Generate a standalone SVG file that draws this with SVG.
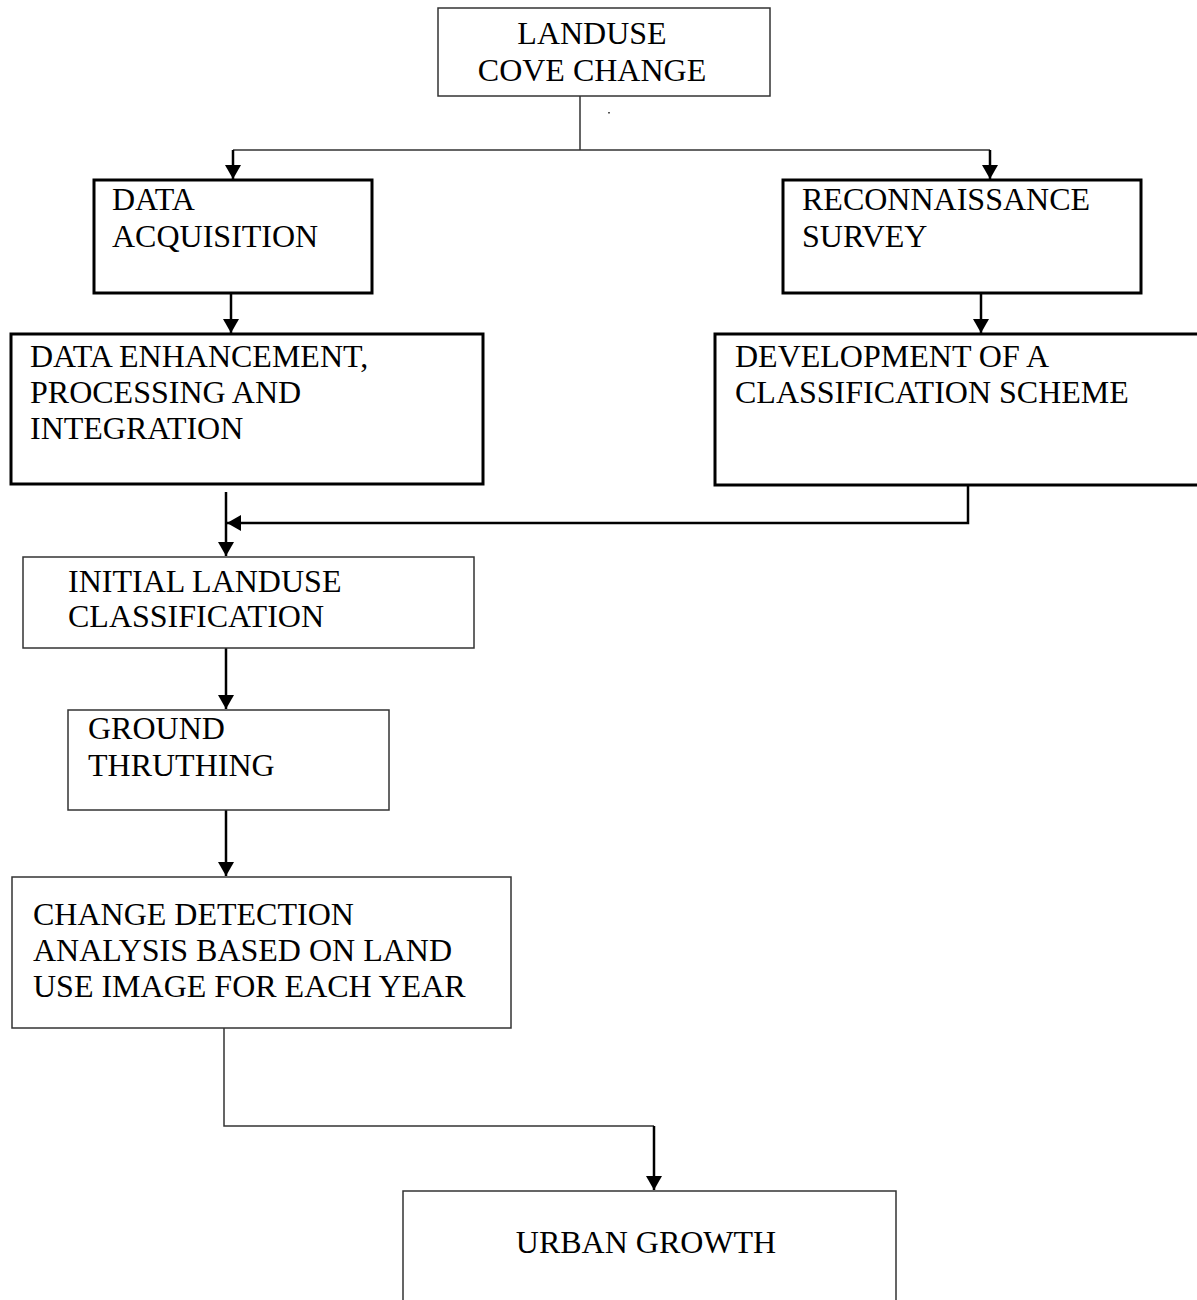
<svg xmlns="http://www.w3.org/2000/svg" width="1197" height="1300" viewBox="0 0 1197 1300">
<style>
text{font-family:"Times New Roman","Liberation Serif","DejaVu Serif",serif;font-size:32px;fill:#000}
.thick{fill:#fff;stroke:#000;stroke-width:3}
.thin{fill:#fff;stroke:#333;stroke-width:1.5}
.ln{fill:none;stroke:#333;stroke-width:1.5}
.ar{fill:none;stroke:#000;stroke-width:2.5}
</style>
<defs>
<marker id="ah" markerUnits="userSpaceOnUse" markerWidth="16" markerHeight="16" refX="14" refY="8" orient="auto">
<path d="M0,0 L14,8 L0,16 z" fill="#000"/>
</marker>
</defs>
<rect width="1197" height="1300" fill="#fff"/>
<g id="connectors">
<path class="ln" d="M580,96 V150 M233,150 H990"/>
<path class="ar" d="M233,150 V179" marker-end="url(#ah)"/>
<path class="ar" d="M990,150 V179" marker-end="url(#ah)"/>
<path class="ar" d="M231,293 V333" marker-end="url(#ah)"/>
<path class="ar" d="M981,293 V333" marker-end="url(#ah)"/>
<path class="ar" d="M968,486 V523 H227" marker-end="url(#ah)"/>
<path class="ar" d="M226,492 V556" marker-end="url(#ah)"/>
<path class="ar" d="M226,648 V709" marker-end="url(#ah)"/>
<path class="ar" d="M226,810 V876" marker-end="url(#ah)"/>
<path class="ln" d="M224,1028 V1126 H654"/>
<path class="ar" d="M654,1126 V1190" marker-end="url(#ah)"/>
<rect x="608" y="112" width="2" height="1.5" fill="#555"/>
</g>
<g id="n-landuse">
<rect class="thin" x="438" y="8" width="332" height="88" stroke="#555"/>
<text x="592" y="44" text-anchor="middle">LANDUSE</text>
<text x="592" y="81" text-anchor="middle">COVE CHANGE</text>
</g>
<g id="n-acq">
<rect class="thick" x="94" y="180" width="278" height="113"/>
<text x="112" y="210">DATA</text>
<text x="112" y="247">ACQUISITION</text>
</g>
<g id="n-recon">
<rect class="thick" x="783" y="180" width="358" height="113"/>
<text x="802" y="210">RECONNAISSANCE</text>
<text x="802" y="247">SURVEY</text>
</g>
<g id="n-enh">
<rect class="thick" x="11" y="334" width="472" height="150"/>
<text x="30" y="367">DATA ENHANCEMENT,</text>
<text x="30" y="403">PROCESSING AND</text>
<text x="30" y="439">INTEGRATION</text>
</g>
<g id="n-dev">
<rect class="thick" x="715" y="334" width="490" height="151"/>
<text x="735" y="367">DEVELOPMENT OF A</text>
<text x="735" y="403">CLASSIFICATION SCHEME</text>
</g>
<g id="n-initial">
<rect class="thin" x="23" y="557" width="451" height="91"/>
<text x="68" y="592">INITIAL LANDUSE</text>
<text x="68" y="627">CLASSIFICATION</text>
</g>
<g id="n-ground">
<rect class="thin" x="68" y="710" width="321" height="100"/>
<text x="88" y="739">GROUND</text>
<text x="88" y="776">THRUTHING</text>
</g>
<g id="n-change">
<rect class="thin" x="12" y="877" width="499" height="151"/>
<text x="33" y="925">CHANGE DETECTION</text>
<text x="33" y="961">ANALYSIS BASED ON LAND</text>
<text x="33" y="997">USE IMAGE FOR EACH YEAR</text>
</g>
<g id="n-urban">
<path class="thin" d="M403,1305 V1191 H896 V1305"/>
<text x="646" y="1253" text-anchor="middle">URBAN GROWTH</text>
</g>
</svg>
